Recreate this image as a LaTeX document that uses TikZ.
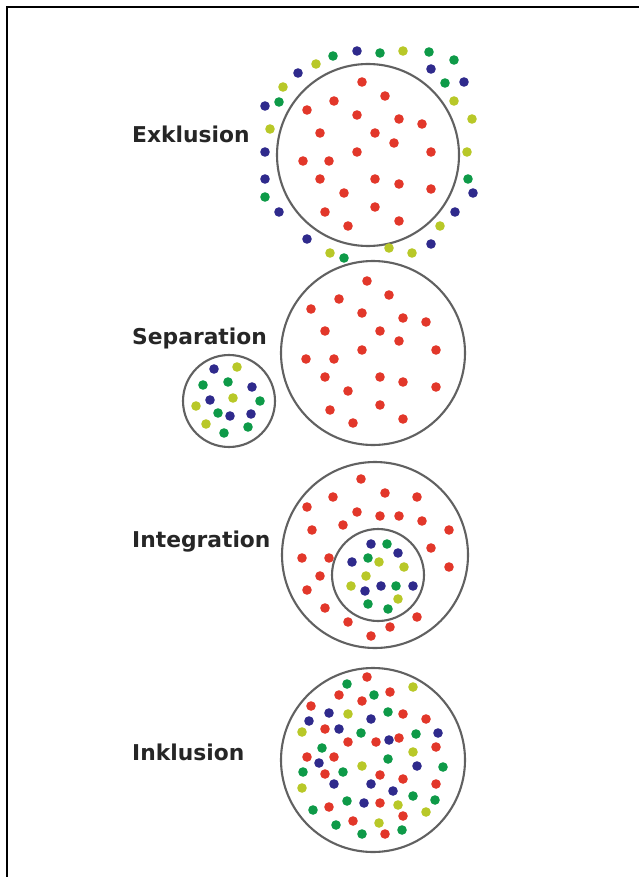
\documentclass[tikz,border=0pt]{standalone}
\usepackage{fontspec}
\setmainfont{DejaVu Sans}
\usepackage{tikz}

\definecolor{dotred}{HTML}{E2372A}
\definecolor{dotblue}{HTML}{2F2A8C}
\definecolor{dotgreen}{HTML}{0E9A48}
\definecolor{dotyellow}{HTML}{B8C828}

\tikzset{
  ring/.style={draw=black!62, line width=1.8pt},
  grouplabel/.style={anchor=west, inner sep=0pt, text=black!85,
    font=\bfseries\fontsize{18.6}{20}\selectfont},
}

\begin{document}
\begin{tikzpicture}[x=0.03cm, y=-0.03cm]
        \useasboundingbox (0,0) rectangle (639,877);

        % 枠線
        \draw[line width=1.9pt] (7,877) -- (7,7) -- (639,7);

        % ラベル
        \node[grouplabel] (exkl) at (132,134) {Exklusion};
        \node[grouplabel] (sepa) at (132,338) {Separation};
        \node[grouplabel] (integ) at (132,542) {Integration};
        \node[grouplabel] (inkl) at (132,752) {Inklusion};

        % Exklusion
        \draw[ring] (368,155) circle (91);
        \foreach \x/\y in {362/82, 385/96, 334/101, 307/110, 357/115, 399/119, 422/124,
            320/133, 375/133, 394/143, 357/152, 431/152, 303/161, 329/161, 320/179,
            375/179, 399/184, 431/189, 344/193, 375/207, 325/212, 399/221, 348/226}
          \fill[dotred] (\x,\y) circle (4.8);
        \foreach \x/\y in {357/51, 298/73, 431/69, 464/82, 265/106, 265/152, 265/179,
            473/193, 279/212, 455/212, 307/239, 431/244}
          \fill[dotblue] (\x,\y) circle (4.8);
        \foreach \x/\y in {380/53, 429/52, 454/60, 333/56, 445/83, 279/102, 468/179,
            265/197, 344/258}
          \fill[dotgreen] (\x,\y) circle (4.8);
        \foreach \x/\y in {403/51, 316/64, 283/87, 454/101, 472/119, 270/129, 467/152,
            440/226, 389/248, 412/253, 330/253}
          \fill[dotyellow] (\x,\y) circle (4.8);

        % Separation
        \draw[ring] (373,353) circle (92);
        \draw[ring] (229,401) circle (46);
        \foreach \x/\y in {367/281, 389/295, 339/299, 311/309, 362/313, 403/318, 426/322,
            325/331, 380/331, 399/341, 362/350, 436/350, 306/359, 334/359, 325/377,
            380/377, 403/382, 436/387, 348/391, 380/405, 330/410, 403/419, 353/423}
          \fill[dotred] (\x,\y) circle (4.8);
        \foreach \x/\y in {214/369, 252/387, 210/400, 230/416, 251/414}
          \fill[dotblue] (\x,\y) circle (4.8);
        \foreach \x/\y in {203/385, 228/382, 260/401, 218/413, 248/427, 224/433}
          \fill[dotgreen] (\x,\y) circle (4.8);
        \foreach \x/\y in {237/367, 233/398, 196/406, 206/424}
          \fill[dotyellow] (\x,\y) circle (4.8);

        % Integration
        \draw[ring] (375,555) circle (93);
        \draw[ring] (378,575) circle (46);
        \foreach \x/\y in {361/479, 385/493, 333/497, 417/497, 307/507, 357/512, 380/516,
            399/516, 422/521, 343/525, 312/530, 449/530, 431/548, 302/558, 329/558,
            449/567, 320/576, 307/590, 325/608, 417/617, 348/622, 390/627, 371/636}
          \fill[dotred] (\x,\y) circle (4.8);
        \foreach \x/\y in {371/544, 398/553, 352/562, 365/591, 381/586, 413/586}
          \fill[dotblue] (\x,\y) circle (4.8);
        \foreach \x/\y in {387/544, 368/558, 396/586, 368/604, 388/609}
          \fill[dotgreen] (\x,\y) circle (4.8);
        \foreach \x/\y in {379/562, 404/567, 366/576, 351/586, 398/599}
          \fill[dotyellow] (\x,\y) circle (4.8);

        % Inklusion
        \draw[ring] (373,760) circle (92);
        \foreach \x/\y in {367/677, 339/695, 390/692, 362/701, 311/706, 403/714, 426/719,
            325/729, 348/742, 376/742, 399/738, 436/747, 307/757, 334/757, 325/774,
            380/775, 403/779, 436/784, 380/803, 329/807, 403/816, 353/821, 385/834}
          \fill[dotred] (\x,\y) circle (4.8);
        \foreach \x/\y in {329/713, 309/721, 371/719, 339/729, 438/733, 389/740, 319/763,
            417/766, 334/784, 371/784, 393/791, 364/803}
          \fill[dotblue] (\x,\y) circle (4.8);
        \foreach \x/\y in {347/684, 374/695, 388/712, 361/733, 416/734, 322/748, 388/759,
            303/772, 343/772, 443/767, 413/796, 435/800, 347/801, 313/810, 336/825,
            402/830, 362/834}
          \fill[dotgreen] (\x,\y) circle (4.8);
        \foreach \x/\y in {413/687, 348/714, 302/732, 413/752, 362/766, 302/788, 398/805,
            426/812, 379/823}
          \fill[dotyellow] (\x,\y) circle (4.8);
\end{tikzpicture}
\end{document}
